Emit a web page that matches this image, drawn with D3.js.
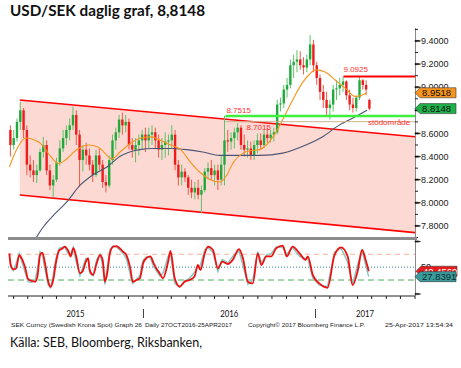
<!DOCTYPE html>
<html><head><meta charset="utf-8">
<script src="https://cdn.jsdelivr.net/npm/d3@7"></script>
<style>body{margin:0;background:#fff}svg{display:block}</style>
</head><body>
<svg id="c" width="461" height="368"></svg>
<script>
// ---------- DATA ----------
const titleText = "USD/SEK daglig graf, 8,8148";
const sourceText = "Källa: SEB, Bloomberg, Riksbanken,";
const weekStart = "2015-03-23"; // first weekly candle (Monday)
const open = [8.63,8.50,8.56,8.70,8.80,8.63,8.33,8.28,8.24,8.28,
 8.44,8.50,8.28,8.15,8.20,8.35,8.47,8.56,8.63,8.67,
 8.76,8.59,8.37,8.46,8.41,8.33,8.24,8.41,8.33,8.18,
 8.15,8.37,8.54,8.61,8.72,8.67,8.70,8.50,8.46,8.50,
 8.54,8.59,8.54,8.59,8.61,8.54,8.46,8.50,8.53,8.54,
 8.59,8.33,8.22,8.27,8.22,8.13,8.09,8.13,8.07,8.11,
 8.27,8.30,8.24,8.28,8.20,8.33,8.54,8.53,8.56,8.61,
 8.65,8.50,8.46,8.47,8.41,8.50,8.54,8.50,8.59,8.56,
 8.59,8.61,8.85,8.86,8.98,9.02,9.19,9.22,9.24,9.19,
 9.17,9.24,9.37,9.19,9.08,8.96,8.89,8.82,8.85,8.98,
 8.99,9.02,9.05,8.93,8.85,8.82,8.91,9.06,9.02,8.89];
const high = [8.67,8.63,8.73,8.87,8.82,8.67,8.41,8.37,8.33,8.47,
 8.57,8.54,8.33,8.24,8.39,8.54,8.63,8.67,8.73,8.83,
 8.80,8.63,8.50,8.52,8.47,8.37,8.46,8.47,8.37,8.24,
 8.41,8.59,8.65,8.76,8.78,8.76,8.73,8.56,8.56,8.59,
 8.63,8.65,8.65,8.67,8.65,8.59,8.56,8.61,8.59,8.67,
 8.63,8.37,8.33,8.30,8.24,8.20,8.18,8.20,8.15,8.30,
 8.35,8.37,8.33,8.33,8.41,8.7515,8.63,8.61,8.65,8.69,
 8.67,8.59,8.54,8.53,8.54,8.60,8.60,8.63,8.65,8.63,
 8.65,8.89,8.91,9.02,9.08,9.24,9.28,9.32,9.31,9.26,
 9.28,9.45,9.41,9.22,9.11,9.02,8.96,8.89,9.02,9.06,
 9.08,9.0925,9.06,8.98,8.91,8.93,9.09,9.07,9.06,8.90];
const low = [8.40,8.46,8.53,8.63,8.56,8.24,8.22,8.18,8.17,8.27,
 8.39,8.24,8.11,8.05,8.18,8.32,8.44,8.50,8.54,8.63,
 8.50,8.14,8.27,8.33,8.28,8.18,8.22,8.28,8.13,8.09,
 8.13,8.33,8.46,8.56,8.59,8.61,8.46,8.39,8.35,8.41,
 8.46,8.44,8.47,8.50,8.47,8.39,8.37,8.39,8.41,8.47,
 8.28,8.15,8.15,8.18,8.07,8.04,8.03,8.03,7.91,8.09,
 8.20,8.20,8.15,8.11,8.15,8.15,8.44,8.46,8.47,8.54,
 8.46,8.40,8.39,8.37,8.37,8.43,8.46,8.47,8.52,8.52,
 8.53,8.59,8.79,8.82,8.91,8.99,9.08,9.13,9.15,9.11,
 9.13,9.19,9.13,9.02,8.89,8.82,8.76,8.72,8.79,8.89,
 8.93,8.96,8.89,8.80,8.78,8.79,8.89,8.98,8.93,8.80];
const close = [8.50,8.56,8.70,8.80,8.63,8.33,8.28,8.24,8.28,8.44,
 8.50,8.28,8.15,8.20,8.35,8.47,8.56,8.63,8.67,8.76,
 8.59,8.37,8.46,8.41,8.33,8.24,8.41,8.33,8.18,8.15,
 8.37,8.54,8.61,8.72,8.67,8.70,8.50,8.46,8.50,8.54,
 8.59,8.54,8.59,8.61,8.54,8.46,8.50,8.53,8.54,8.59,
 8.33,8.22,8.27,8.22,8.13,8.09,8.13,8.07,8.11,8.27,
 8.30,8.24,8.28,8.20,8.33,8.54,8.53,8.56,8.61,8.65,
 8.50,8.46,8.47,8.41,8.50,8.54,8.50,8.59,8.56,8.59,
 8.61,8.85,8.86,8.98,9.02,9.19,9.22,9.24,9.19,9.17,
 9.24,9.37,9.19,9.08,8.96,8.89,8.82,8.85,8.98,8.99,
 9.02,9.05,8.93,8.85,8.82,8.91,9.06,9.02,8.98,8.8148];

// moving averages: time in weeks since weekStart
const ma50T = [0,2,5,7,10,12,15,17,20,24,27,30,31,34,37,40,43,46,49,52,55,58,61,64,66,68,71,73,76,78,80,83,86,89,91,93,96,99,102,105,107,108.6];
const ma50V = [8.31,8.45,8.56,8.55,8.50,8.42,8.34,8.37,8.45,8.50,8.48,8.40,8.38,8.45,8.52,8.56,8.57,8.54,8.50,8.46,8.35,8.26,8.20,8.18,8.24,8.35,8.43,8.45,8.46,8.50,8.57,8.72,8.89,9.04,9.11,9.15,9.13,9.06,8.99,8.92,8.93,8.9518];
const ma200T = [6.5,10,14,17.5,21.4,25.3,29.6,33.5,36.5,39.6,43.5,48.7,53.8,58.7,63.8,69,76,83,90,95,100,104,108.6];
const ma200V = [7.62,7.78,7.91,8.01,8.15,8.24,8.31,8.40,8.44,8.46,8.47,8.47,8.46,8.44,8.41,8.41,8.41,8.43,8.50,8.57,8.67,8.73,8.80];

// stochastic oscillator
const stochT = [0,0.4,1.2,2,3,3.7,4.7,5.7,6.8,7.8, 8.5,9.3,10,10.8,11.8,12.5,13.3,14.1,15.1,16.2,
 16.8,17.8,18.6,19.4,20.2,21.4,22.2,23.2,23.9,24.4, 25.4,26.5,27.5,28.3,29,29.7,30.5,31.5,32.5,33.5,
 34.5,35.5,36.8,37.4,38.6,39.6,40.6,41.6,42.8,43.8, 44.6,45.6,46.6,48.2,48.9,50.2,51.7,53.2,54.7,56.2,
 57.2,58,59.3,60.3,61.8,63.3,64.6,66.3,67.8,69.7, 70.9,72.4,73.9,75.4,76.5,78,79.5,81,83,84.2,
 86,88.1,89.9,90.6,92.1,94.1,96.6,98.7,100.7,102.7, 104.2,105.7,107.1,108.3,109.1];
const stochK = [82,55,45,47,78,71,51,22,18,16, 28,78,84,59,16,4,20,59,89,94,
 98,89,75,94,78,36,40,63,71,43, 32,59,78,67,16,36,82,98,99,94,
 86,78,43,16,20,24,59,71,75,59, 47,36,24,63,88,24,4.5,16,20,28,
 55,43,82,98,90,47,63,57,67,92, 71,16,12,82,55,75,75,94,100,75,
 98,82,67,75,32,12,2,78,96,75, 8,40,90,63,40.4569];
const stochD = [75,50,42,58,82,64,40,16,15,20, 45,86,80,45,8,2,30,70,94,97,
 96,82,80,96,65,30,48,70,66,36, 30,68,80,55,10,48,90,99,97,90,
 82,70,30,12,22,30,66,74,72,52, 42,30,35,75,82,12,3,18,24,38,
 50,55,90,96,84,40,68,60,75,88, 55,10,20,86,60,78,82,97,96,80,
 95,75,70,70,25,8,5,85,94,62, 10,55,88,50,27.8391];
const stochLevels = [80,50,20];

// annotations
const channelDates = ["2015-04-14","2017-08-01"];
const channelUpper = [8.89,8.572];
const channelLower = [8.067,7.742];
const resistStart = "2017-03-02", resistLevel = 9.0925;
const supportStart = "2016-06-24", supportLevel = 8.7515, support2Level = 8.7015;
const supportLabel = "stödområde";
const yTicks = [7.8,8.0,8.2,8.4,8.6,8.8,9.0,9.2,9.4];
const yTickLabels = ["7.8000","8.0000","8.2000","8.4000","8.6000","","9.0000","9.2000","9.4000"];
const yMinor = [7.7,7.9,8.1,8.3,8.5,8.7,8.9,9.1,9.3,9.5];
const years = ["2015","2016","2017"];
const yearBounds = ["2015-03-20","2016-01-01","2017-01-01","2017-08-01"];
const lastMa50 = 8.9518, lastPrice = 8.8148;
const lastK = 40.4569, lastD = 27.8391;
const footer = ["SEK Curncy (Swedish Krona Spot) Graph 26","Daily 27OCT2016-25APR2017","Copyright© 2017 Bloomberg Finance L.P.","25-Apr-2017 13:54:34"];

// ---------- LAYOUT ----------
const svg = d3.select("#c");
const parse = d3.timeParse("%Y-%m-%d");
const base = parse(weekStart);
const tDate = t => new Date(base.getTime() + t*7*864e5);
const L = 8, R = 415, mainTop = 28, mainBot = 237, oscTop = 240, oscBot = 296;
const x = d3.scaleTime().domain([parse("2015-03-20"), parse("2017-08-01")]).range([L, R]);
const y = d3.scaleLinear().domain([7.7, 9.5]).range([237.5, 29.4]);
const ys = d3.scaleLinear().domain([0, 100]).range([288.6, 245.7]);
const GREEN = "#20aa3c", RED = "#ee1c1c";
const sans = "'Liberation Sans', Arial, sans-serif";

// title
svg.append("text").attr("x", 10).attr("y", 16)
  .attr("font-family", "Lato, 'Open Sans', sans-serif").attr("font-weight", "bold")
  .attr("font-size", 15).attr("textLength", 195).attr("lengthAdjust", "spacingAndGlyphs")
  .attr("fill", "#111").text(titleText);

svg.append("clipPath").attr("id", "mainClip").append("rect")
  .attr("x", L).attr("y", mainTop).attr("width", R - L).attr("height", mainBot - mainTop);
svg.append("clipPath").attr("id", "oscClip").append("rect")
  .attr("x", L).attr("y", oscTop).attr("width", R - L).attr("height", oscBot - oscTop);

const gm = svg.append("g").attr("clip-path", "url(#mainClip)");
const cd = channelDates.map(parse);

// channel fill + lines
gm.append("path").attr("fill", "#fdd9d3")
  .attr("d", d3.line()([[x(cd[0]), y(channelUpper[0])], [x(cd[1]), y(channelUpper[1])],
                         [x(cd[1]), y(channelLower[1])], [x(cd[0]), y(channelLower[0])]]));
[channelUpper, channelLower].forEach(ch => {
  gm.append("line").attr("x1", x(cd[0])).attr("y1", y(ch[0])).attr("x2", x(cd[1])).attr("y2", y(ch[1]))
    .attr("stroke", "#ff0000").attr("stroke-width", 1.6);
});

// candles
const candles = close.map((c, i) => ({d: tDate(i + 0.3), o: open[i], h: high[i], l: low[i], c}));
gm.selectAll("line.wick").data(candles).join("line").attr("class", "wick")
  .attr("x1", d => x(d.d)).attr("x2", d => x(d.d))
  .attr("y1", d => y(d.h)).attr("y2", d => y(d.l))
  .attr("stroke", d => d.c >= d.o ? "#5cc46a" : "#f05a4a").attr("stroke-width", 1);
gm.selectAll("rect.body").data(candles).join("rect").attr("class", "body")
  .attr("x", d => x(d.d) - 1.2).attr("width", 2.4)
  .attr("y", d => y(Math.max(d.o, d.c)))
  .attr("height", d => Math.max(1, Math.abs(y(d.o) - y(d.c))))
  .attr("fill", d => d.c >= d.o ? GREEN : RED);

// moving averages
const maLine = d3.line().x(d => x(tDate(d[0]))).y(d => y(d[1])).curve(d3.curveMonotoneX);
gm.append("path").attr("fill", "none").attr("stroke", "#4b5573").attr("stroke-width", 1.1)
  .attr("d", maLine(ma200T.map((t, i) => [t, ma200V[i]])));
gm.append("path").attr("fill", "none").attr("stroke", "#f7941d").attr("stroke-width", 1.1)
  .attr("d", maLine(ma50T.map((t, i) => [t, ma50V[i]])));

// support / resistance
const sx = x(parse(supportStart));
gm.append("line").attr("x1", sx).attr("x2", R).attr("y1", y(support2Level)).attr("y2", y(support2Level))
  .attr("stroke", "#c9b38c").attr("stroke-width", 1);
gm.append("line").attr("x1", sx).attr("x2", R).attr("y1", y(supportLevel)).attr("y2", y(supportLevel))
  .attr("stroke", "#3cf03c").attr("stroke-width", 2.6);
gm.append("line").attr("x1", x(parse(resistStart))).attr("x2", R).attr("y1", y(resistLevel)).attr("y2", y(resistLevel))
  .attr("stroke", "#ff0000").attr("stroke-width", 2);

const ann = (txt, xx, yy, size) => svg.append("text").attr("x", xx).attr("y", yy)
  .attr("font-family", sans).attr("font-size", size).attr("fill", "#ff3030").text(txt);
ann(resistLevel.toFixed(4), x(parse(resistStart)), y(resistLevel) - 5, 8);
ann(supportLevel.toFixed(4), sx + 1, y(supportLevel) - 3, 8);
ann(support2Level.toFixed(4), sx + 21, y(support2Level) + 8, 8);
ann(supportLabel, 368, y(support2Level) + 3, 8);

// right axis (main)
svg.append("line").attr("x1", R + 0.5).attr("x2", R + 0.5).attr("y1", mainTop).attr("y2", oscBot)
  .attr("stroke", "#8a8a8a").attr("stroke-width", 1);
yMinor.forEach(v => svg.append("line").attr("x1", R).attr("x2", R + 3).attr("y1", y(v)).attr("y2", y(v))
  .attr("stroke", "#222").attr("stroke-width", 1));
yTicks.forEach((v, i) => {
  svg.append("path").attr("d", `M${R},${y(v) - 0.6}h3l2.5,0.6l-2.5,0.6h-3z`).attr("fill", "#111").attr("stroke", "#111").attr("stroke-width", 0.6);
  if (yTickLabels[i]) svg.append("text").attr("x", R + 6).attr("y", y(v)).attr("dy", "0.35em")
    .attr("font-family", sans).attr("font-size", 9).attr("fill", "#222").text(yTickLabels[i]);
});

// value flags
function flag(v, sc, fill, txtColor, x0) {
  const yc = sc(v);
  svg.append("path").attr("d", `M${x0},${yc}L${x0 + 5},${yc - 5}H${x0 + 41}V${yc + 5}H${x0 + 5}Z`)
    .attr("fill", fill).attr("stroke", "#333").attr("stroke-width", 0.6);
  svg.append("text").attr("x", x0 + 7).attr("y", yc).attr("dy", "0.36em")
    .attr("font-family", sans).attr("font-size", 9.5).attr("fill", txtColor).text(v.toFixed(4));
}
flag(lastMa50, y, "#f7941d", "#111", R);
flag(lastPrice, y, "#1fb24a", "#111", R);

// separator bar
svg.append("rect").attr("x", L).attr("y", 237).attr("width", R - L + 2).attr("height", 3).attr("fill", "#8c8c8c");

// oscillator
const go = svg.append("g").attr("clip-path", "url(#oscClip)");
const lvlStyle = {80: ["#f7b49c", "5,4", 1], 50: ["#2a8c8c", "1,2", 1], 20: ["#4cae5a", "6,4", 1]};
stochLevels.forEach(v => go.append("line").attr("x1", L).attr("x2", R).attr("y1", ys(v)).attr("y2", ys(v))
  .attr("stroke", lvlStyle[v][0]).attr("stroke-dasharray", lvlStyle[v][1]).attr("stroke-width", lvlStyle[v][2]));
const sLine = d3.line().x(d => x(tDate(d[0]))).y(d => ys(d[1]));
go.append("path").attr("fill", "none").attr("stroke", "#86c9c3").attr("stroke-width", 1.5)
  .attr("d", sLine.curve(d3.curveLinear)(stochT.map((t, i) => [t, stochD[i]])));
go.append("path").attr("fill", "none").attr("stroke", "#f01010").attr("stroke-width", 1.8)
  .attr("d", sLine.curve(d3.curveMonotoneX)(stochT.map((t, i) => [t, stochK[i]])));

// oscillator axis
[oscTop + 1.5, oscBot - 2].forEach(yy => svg.append("path")
  .attr("d", `M${R},${yy - 0.6}h3l2.5,0.6l-2.5,0.6h-3z`).attr("fill", "#111").attr("stroke", "#111").attr("stroke-width", 0.6));
svg.append("text").attr("x", R + 6).attr("y", ys(50)).attr("dy", "0.35em")
  .attr("font-family", sans).attr("font-size", 9).attr("fill", "#222").text("50");
flag(lastK, ys, "#e81b1b", "#fff", R + 1);
flag(lastD, ys, "#3a9c9c", "#0d2b2b", R);

svg.append("line").attr("x1", L).attr("x2", R).attr("y1", oscBot).attr("y2", oscBot).attr("stroke", "#222");
const months = x.ticks(d3.timeMonth.every(1));
svg.selectAll("line.mt").data(months).join("line").attr("class", "mt")
  .attr("x1", d => x(d)).attr("x2", d => x(d)).attr("y1", oscBot).attr("y2", oscBot + 3)
  .attr("stroke", "#222");

// year labels + separators
const yb = yearBounds.map(parse);
years.forEach((yr, i) => {
  const x0 = Math.max(L, x(yb[i])), x1 = x(yb[i + 1]);
  svg.append("text").attr("x", (x0 + x1) / 2).attr("y", 317).attr("text-anchor", "middle")
    .attr("font-family", "Lato, sans-serif").attr("font-size", 10).attr("textLength", 18)
    .attr("lengthAdjust", "spacingAndGlyphs").attr("fill", "#111").text(yr);
});
[yb[1], yb[2]].forEach(d => svg.append("line").attr("x1", Math.round(x(d)) + 0.5).attr("x2", Math.round(x(d)) + 0.5)
  .attr("y1", 309).attr("y2", 318).attr("stroke", "#444"));

// footer
const fx = [11, 145, 248, 385], fw = [131, 87, 117, 68];
footer.forEach((t, i) => svg.append("text").attr("x", fx[i]).attr("y", 327)
  .attr("font-family", sans).attr("font-size", 5.6).attr("textLength", fw[i]).attr("lengthAdjust", "spacingAndGlyphs")
  .attr("fill", "#222").text(t));

svg.append("text").attr("x", 10).attr("y", 347)
  .attr("font-family", "Lato, 'Open Sans', sans-serif").attr("font-size", 12.5)
  .attr("textLength", 192).attr("lengthAdjust", "spacingAndGlyphs").attr("fill", "#111").text(sourceText);
</script>
</body></html>
